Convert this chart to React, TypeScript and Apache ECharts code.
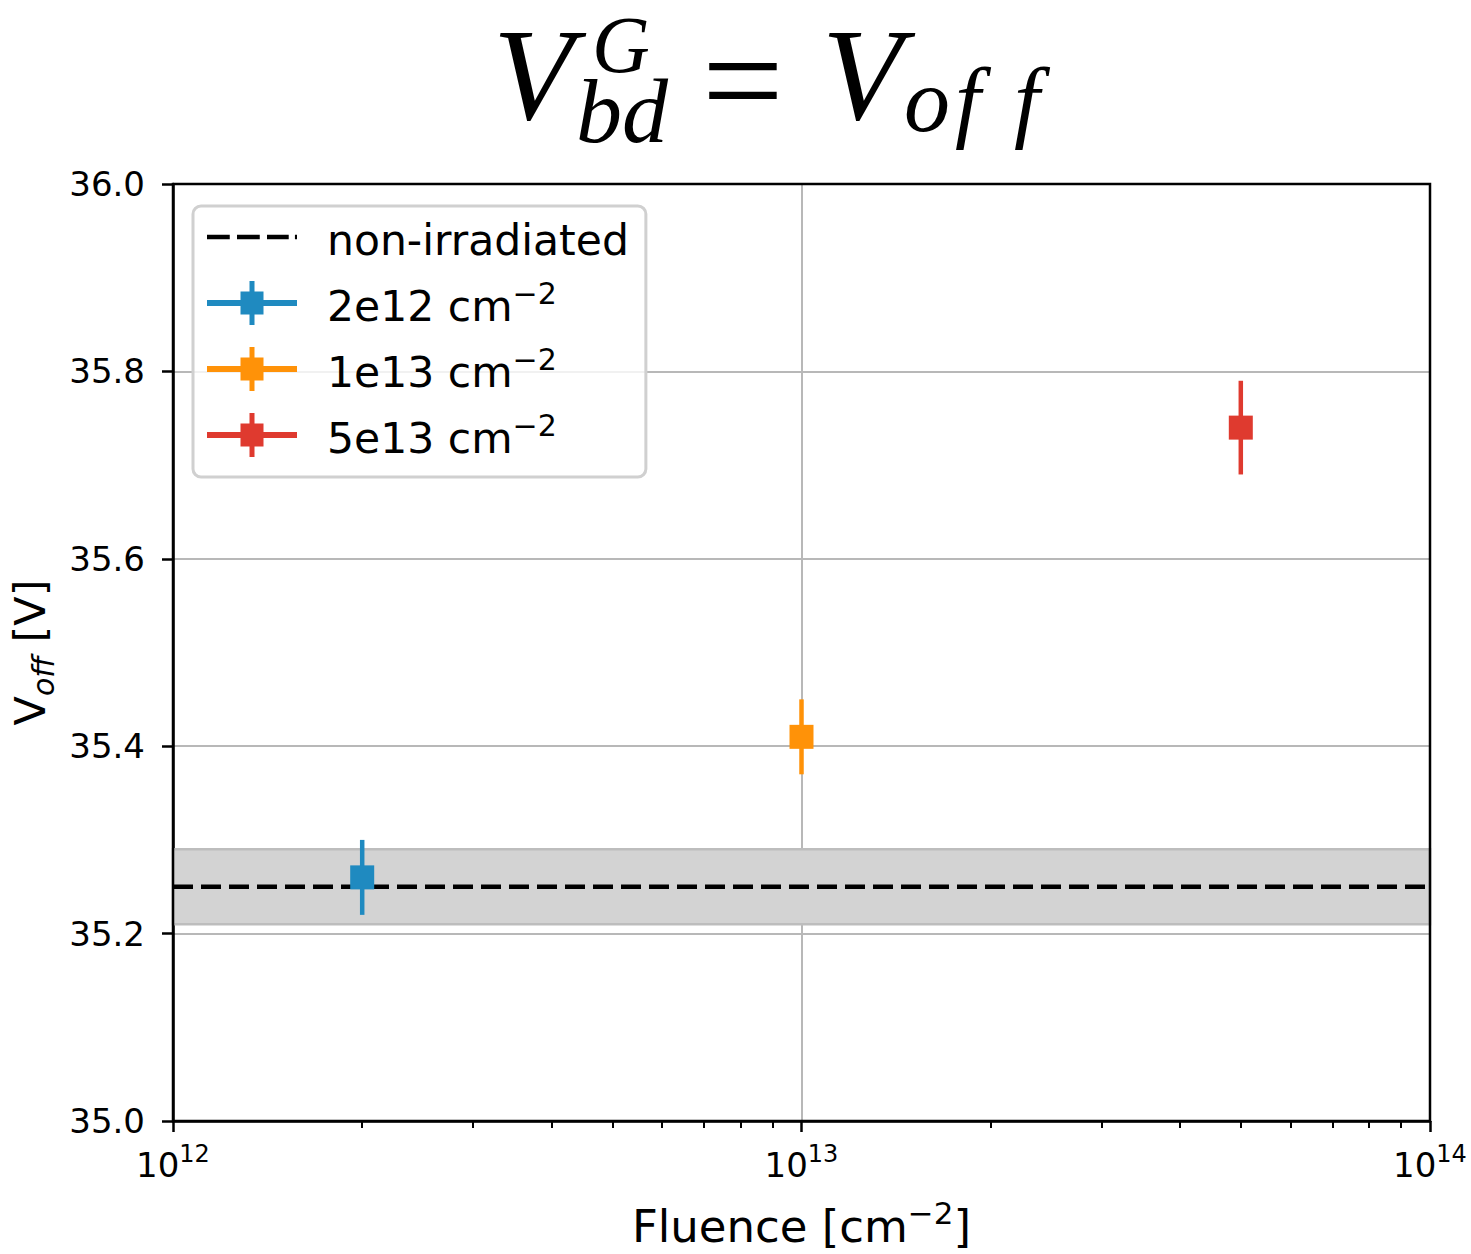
import React, { useEffect, useRef } from "react";
import * as echarts from "echarts";

// ---- data ----
const fluences = [2e12, 1e13, 5e13];
const voffValues = [35.26, 35.41, 35.74];
const voffErrors = [0.04, 0.04, 0.05];
const seriesNames = ["2e12 cm^-2", "1e13 cm^-2", "5e13 cm^-2"];
const seriesColors = ["#1f8ac0", "#ff9208", "#df3a2f"];
const refName = "non-irradiated";
const refValue = 35.25;
const refError = 0.04;
const xRange = [1e12, 1e14];
const xMajorTicks = [1e12, 1e13, 1e14];
const xMinorTicks = [2e12, 3e12, 4e12, 5e12, 6e12, 7e12, 8e12, 9e12, 2e13, 3e13, 4e13, 5e13, 6e13, 7e13, 8e13, 9e13];
const yRange = [35.0, 36.0];
const yInterval = 0.2;

const FONT = "DejaVu Sans";
const SERIF = "Liberation Serif";

const dashIcon = "path://M0,0h22v4.5h-22z M29,0h22v4.5h-22z M58,0h21v4.5h-21z M85,0h2v4.5h-2z";
const errIcon = "path://M0,19h90v6h-90z M42.5,0h5v44h-5z M33.5,10.5h23v23h-23z";

export default function App() {
  const ref = useRef<HTMLDivElement>(null);
  useEffect(() => {
    const chart = echarts.init(ref.current!, undefined, { renderer: "svg" });

    const errSeries = seriesNames.map((name, i) => ({
      name,
      type: "custom",
      xAxisIndex: 0,
      yAxisIndex: 0,
      z: 5,
      itemStyle: { color: seriesColors[i] },
      encode: { x: 0, y: 1 },
      data: [[fluences[i], voffValues[i], voffErrors[i]]],
      renderItem: (params: any, api: any) => {
        const x = api.value(0);
        const y = api.value(1);
        const e = api.value(2);
        const c = api.coord([x, y]);
        const top = api.coord([x, y + e]);
        const bot = api.coord([x, y - e]);
        const col = seriesColors[i];
        return {
          type: "group",
          children: [
            {
              type: "line",
              shape: { x1: c[0], y1: top[1], x2: c[0], y2: bot[1] },
              style: { stroke: col, lineWidth: 4.5 },
            },
            {
              type: "rect",
              shape: { x: c[0] - 12, y: c[1] - 12, width: 24, height: 24 },
              style: { fill: col },
            },
          ],
        };
      },
    }));

    const tt = (text: string, x: number, y: number, size: number, lh: number, italic = true) => ({
      type: "text",
      x,
      y,
      style: {
        text,
        font: `${italic ? "italic " : ""}${size}px "${SERIF}"`,
        lineHeight: lh,
        fill: "#000",
        verticalAlign: "middle",
      },
    });

    const option: any = {
      animation: false,
      backgroundColor: "#ffffff",
      grid: {
        left: 170,
        top: 184,
        width: 1260,
        height: 938,
        show: true,
        borderColor: "#000",
        borderWidth: 2.5,
        backgroundColor: "transparent",
        z: 3,
      },
      graphic: [
        tt("V", 493, 74, 132, 96),
        tt("G", 592, 45, 80, 56),
        tt("bd", 576, 111, 92, 58),
        tt("=", 702, 80, 145, 60, false),
        tt("V", 822, 74, 132, 96),
        tt("o", 904, 100, 92, 60),
        tt("f", 955, 100, 92, 60),
        tt("f", 1014, 100, 92, 60),
      ],
      legend: {
        orient: "vertical",
        left: 193,
        top: 206,
        padding: [13, 17, 17, 14],
        itemWidth: 90,
        itemHeight: 44,
        itemGap: 16,
        backgroundColor: "rgba(255,255,255,0.8)",
        borderColor: "#d0d0d0",
        borderWidth: 3,
        borderRadius: 8,
        z: 10,
        data: [
          { name: refName, icon: dashIcon },
          ...seriesNames.map((n) => ({ name: n, icon: errIcon })),
        ],
        formatter: (name: string) => {
          if (name.indexOf(" cm") >= 0) {
            const p = name.split(" cm")[0];
            return `{n|${p} cm}{s|−2}`;
          }
          return `{n|${name}}`;
        },
        textStyle: {
          padding: [0, 0, 0, 25],
          rich: {
            n: { fontSize: 42.5, fontFamily: FONT, color: "#000", lineHeight: 50, verticalAlign: "bottom" },
            s: { fontSize: 30, fontFamily: FONT, color: "#000", lineHeight: 28, verticalAlign: "top" },
          },
        },
      },
      xAxis: [
        {
          type: "log",
          logBase: 10,
          min: xRange[0],
          max: xRange[1],
          name: "{n|Fluence [cm}{s|−2}{n|]}",
          nameLocation: "middle",
          nameGap: 76,
          nameTextStyle: {
            rich: {
              n: { fontSize: 45, fontFamily: FONT, color: "#000", lineHeight: 52, verticalAlign: "bottom" },
              s: { fontSize: 31, fontFamily: FONT, color: "#000", lineHeight: 28, verticalAlign: "top" },
            },
          },
          axisLine: { show: true, lineStyle: { color: "#000", width: 2.5 } },
          axisTick: { show: true, length: 11, lineStyle: { color: "#000", width: 2.5 }, customValues: xMajorTicks },
          axisLabel: {
            customValues: xMajorTicks,
            margin: 21,
            formatter: (v: number) => `{b|10}{s|${Math.round(Math.log10(v))}}`,
            rich: {
              b: { fontSize: 34, fontFamily: FONT, color: "#000", lineHeight: 40, verticalAlign: "bottom" },
              s: { fontSize: 24, fontFamily: FONT, color: "#000", lineHeight: 24, verticalAlign: "top" },
            },
          },
          splitLine: { show: true, lineStyle: { color: "#b8b8b8", width: 2 } },
        },
        {
          type: "log",
          logBase: 10,
          min: xRange[0],
          max: xRange[1],
          position: "bottom",
          axisLine: { show: false },
          axisTick: { show: true, length: 7, lineStyle: { color: "#000", width: 2 }, customValues: xMinorTicks },
          axisLabel: { show: false },
          splitLine: { show: false },
        },
      ],
      yAxis: {
        type: "value",
        min: yRange[0],
        max: yRange[1],
        interval: yInterval,
        name: "{v|V}{sub|off}{n| [V]}",
        nameLocation: "middle",
        nameGap: 115,
        nameTextStyle: {
          rich: {
            v: { fontSize: 43, fontFamily: FONT, color: "#000", lineHeight: 50, verticalAlign: "top" },
            n: { fontSize: 43, fontFamily: FONT, color: "#000", lineHeight: 50, verticalAlign: "top" },
            sub: { fontSize: 30, fontFamily: FONT, fontStyle: "italic", color: "#000", lineHeight: 30, verticalAlign: "bottom" },
          },
        },
        axisLine: { show: true, lineStyle: { color: "#000", width: 2.5 } },
        axisTick: { show: true, length: 11, lineStyle: { color: "#000", width: 2.5 } },
        axisLabel: {
          margin: 28,
          fontSize: 34,
          fontFamily: FONT,
          color: "#000",
          formatter: (v: number) => v.toFixed(1),
        },
        splitLine: { show: true, lineStyle: { color: "#b8b8b8", width: 2 } },
      },
      series: [
        {
          name: refName,
          type: "line",
          z: 4,
          symbol: "none",
          itemStyle: { color: "#000" },
          lineStyle: { color: "#000", width: 4.5, type: [20, 8] },
          data: [
            [xRange[0], refValue],
            [xRange[1], refValue],
          ],
          markArea: {
            silent: true,
            itemStyle: { color: "#d3d3d3", borderColor: "#bdbdbd", borderWidth: 2.5 },
            data: [[{ yAxis: refValue - refError }, { yAxis: refValue + refError }]],
          },
        },
        ...errSeries,
      ],
    };
    chart.setOption(option);
    return () => chart.dispose();
  }, []);
  return (
    <div
      ref={ref}
      style={{ position: "absolute", left: 0, top: 0, width: 1471, height: 1254 }}
    />
  );
}
